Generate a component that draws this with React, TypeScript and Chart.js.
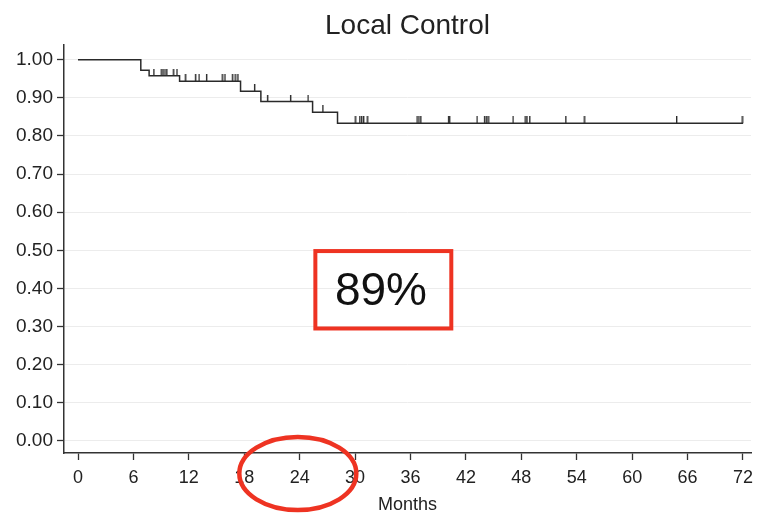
import React, { useEffect, useRef } from "react";
import { Chart, registerables } from "chart.js";

Chart.register(...registerables);

// Kaplan-Meier step curve (event times in months, survival estimate)
const eventTimes = [0, 6.8, 7.7, 11.0, 17.6, 19.8, 25.4, 28.1, 72];
const survival = [1.0, 0.972, 0.958, 0.943, 0.917, 0.89, 0.862, 0.833, 0.833];

// Censoring times (months)
const censorTimes = [
  8.2, 9.0, 9.2, 9.4, 9.6, 10.3, 10.7,
  11.6, 12.7, 13.1, 13.9, 15.6, 15.9, 16.7, 17.0, 17.3,
  19.1, 20.5, 23.0, 24.9, 26.5,
  30.0, 30.5, 30.7, 30.9, 31.3, 36.7, 36.9, 37.1, 40.1, 40.2,
  43.2, 44.0, 44.2, 44.4, 47.1, 48.4, 48.6, 48.9, 52.8, 54.8, 64.8, 71.9,
];

const xTicks = [0, 6, 12, 18, 24, 30, 36, 42, 48, 54, 60, 66, 72];
const yTicks = [0, 0.1, 0.2, 0.3, 0.4, 0.5, 0.6, 0.7, 0.8, 0.9, 1.0];

const titleText = "Local Control";
const xTitle = "Months";
const boxLabel = "89%";

const FONT = "'Liberation Sans', Arial, Helvetica, sans-serif";
const RED = "#ee3322";

function survivalAt(t: number): number {
  let s = survival[0];
  for (let i = 0; i < eventTimes.length; i++) {
    if (eventTimes[i] <= t) s = survival[i];
  }
  return s;
}

export default function App() {
  const ref = useRef<HTMLCanvasElement | null>(null);

  useEffect(() => {
    if (!ref.current) return;
    Chart.defaults.font.family = FONT;

    const mark = document.createElement("canvas");
    mark.width = 3;
    mark.height = 14;
    const mctx = mark.getContext("2d")!;
    mctx.fillStyle = "#2a2a2a";
    mctx.fillRect(1, 0, 1.4, 7);

    const annotations = {
      id: "annotations",
      afterDraw(chart: any) {
        const { ctx, scales, chartArea } = chart;
        const x = scales.x;
        const y = scales.y;
        ctx.save();
        // red box with label
        const x0 = x.getPixelForValue(25.7);
        const x1 = x.getPixelForValue(40.42);
        const y0 = y.getPixelForValue(0.498);
        const y1 = y.getPixelForValue(0.295);
        ctx.strokeStyle = RED;
        ctx.lineWidth = 4;
        ctx.strokeRect(x0, y0, x1 - x0, y1 - y0);
        ctx.fillStyle = "#111";
        ctx.font = `46px ${FONT}`;
        ctx.textAlign = "center";
        ctx.textBaseline = "middle";
        ctx.fillText(boxLabel, x.getPixelForValue(32.8), y.getPixelForValue(0.39));
        // red ellipse around 24 months
        ctx.beginPath();
        ctx.lineWidth = 4.5;
        ctx.ellipse(x.getPixelForValue(23.8), chartArea.bottom + 20.5, 58.5, 36.5, 0, 0, Math.PI * 2);
        ctx.stroke();
        ctx.restore();
      },
    };

    const chart = new Chart(ref.current, {
      type: "scatter",
      data: {
        datasets: [
          {
            type: "line",
            data: eventTimes.map((t, i) => ({ x: t, y: survival[i] })),
            stepped: true,
            borderColor: "#2a2a2a",
            borderWidth: 1.5,
            pointRadius: 0,
            fill: false,
          } as any,
          {
            data: censorTimes.map((t) => ({ x: t, y: survivalAt(t) })),
            pointStyle: mark as any,
            pointRadius: 5,
          },
        ],
      },
      options: {
        animation: false,
        responsive: false,
        devicePixelRatio: 1,
        layout: { padding: { left: 0, right: 0, top: 0, bottom: 0 } },
        plugins: {
          legend: { display: false },
          tooltip: { enabled: false },
          title: {
            display: true,
            text: titleText,
            fullSize: false,
            color: "#222",
            font: { size: 28, weight: "normal", family: FONT },
            padding: { top: 9, bottom: 2 },
          },
        },
        scales: {
          x: {
            type: "linear",
            min: -1.516,
            max: 72.87,
            afterBuildTicks: (s: any) => {
              s.ticks = xTicks.map((v) => ({ value: v }));
            },
            afterFit: (s: any) => {
              s.height = 61;
              s.paddingLeft = 0;
              s.paddingRight = 0;
            },
            ticks: {
              color: "#222",
              font: { size: 18 },
              padding: 7,
              maxRotation: 0,
              autoSkip: false,
              callback: (v: any) => String(v),
            },
            grid: {
              drawOnChartArea: false,
              drawTicks: true,
              tickLength: 7,
              tickColor: "#333",
              tickWidth: 1.3,
            },
            border: { display: true, color: "#333", width: 1.5 },
            title: {
              display: true,
              text: xTitle,
              color: "#222",
              font: { size: 18, lineHeight: 1 },
              padding: { top: 0, bottom: 0 },
            },
          },
          y: {
            type: "linear",
            min: -0.0315,
            max: 1.0394,
            afterBuildTicks: (s: any) => {
              s.ticks = yTicks.map((v) => ({ value: v }));
            },
            afterFit: (s: any) => {
              s.width = 64;
            },
            ticks: {
              color: "#222",
              font: { size: 19 },
              padding: 4,
              autoSkip: false,
              callback: (v: any) => Number(v).toFixed(2),
            },
            grid: {
              color: "#ececec",
              lineWidth: 1,
              drawTicks: true,
              tickLength: 7,
              tickColor: "#333",
              tickWidth: 1.3,
            },
            border: { display: true, color: "#333", width: 1.5 },
          },
        },
      } as any,
      plugins: [annotations],
    });
    return () => chart.destroy();
  }, []);

  return (
    <div style={{ position: "fixed", left: 0, top: 0, width: 757, height: 514, background: "#fff" }}>
      <canvas ref={ref} width={757} height={514} />
    </div>
  );
}
